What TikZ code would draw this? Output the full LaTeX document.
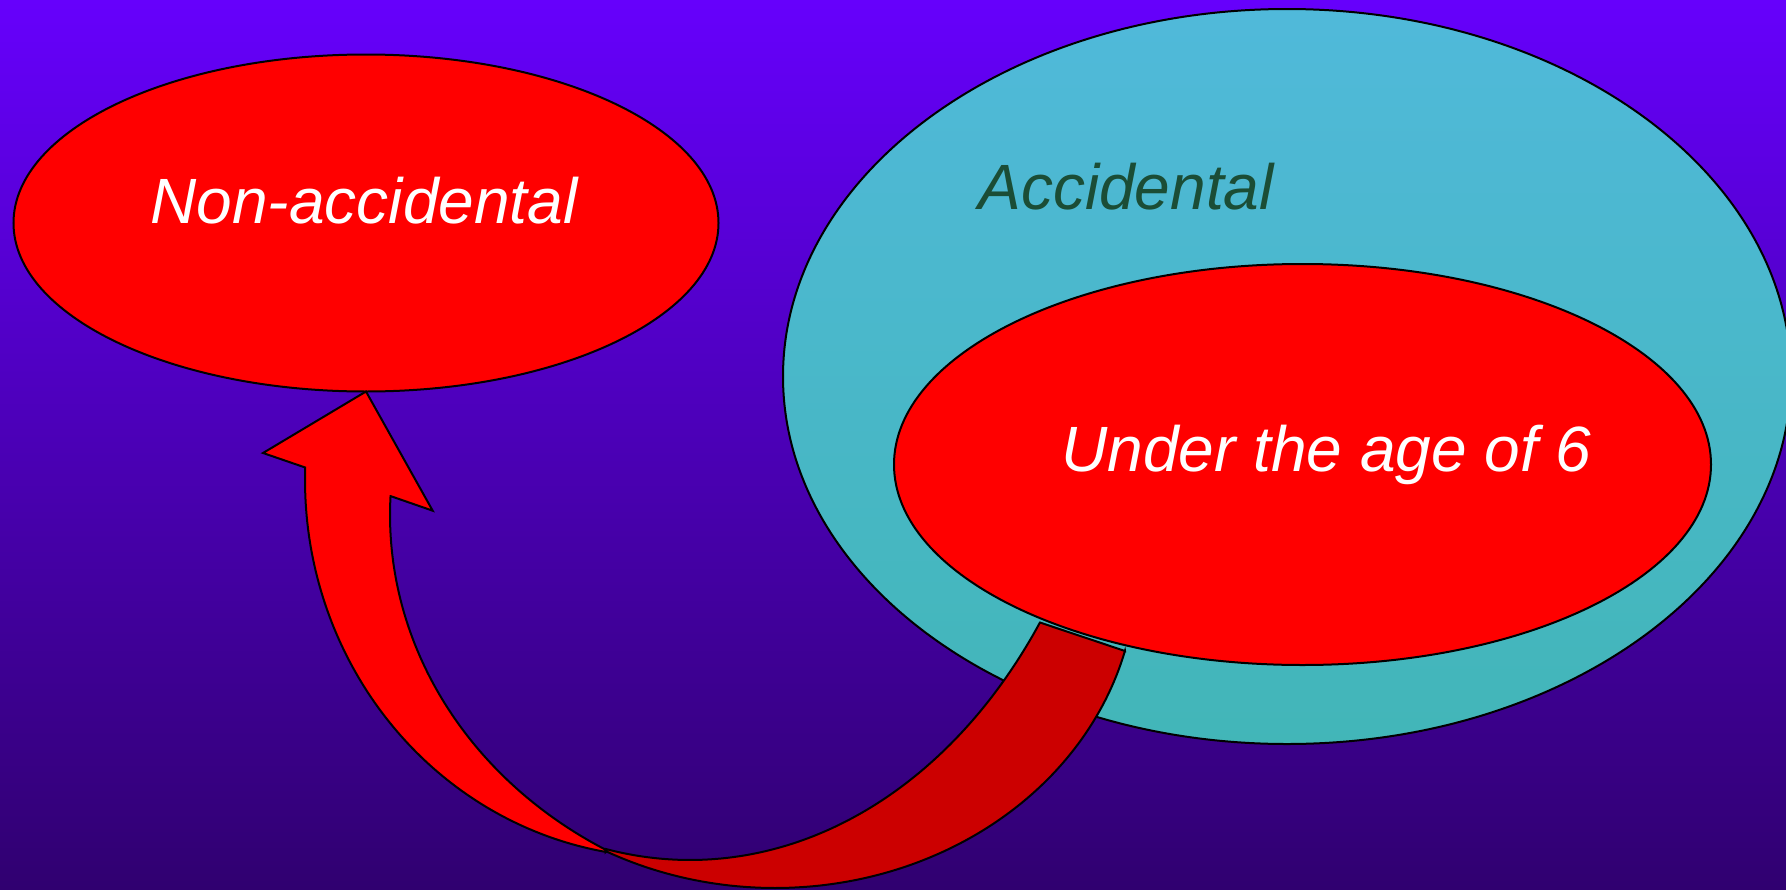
\documentclass[tikz,border=0pt]{standalone}
\usepackage{fontspec}
\setmainfont{Liberation Sans}
\usetikzlibrary{shapes.geometric}
\definecolor{bgtop}{RGB}{102,0,252}
\definecolor{bgbot}{RGB}{48,0,112}
\definecolor{cyantop}{RGB}{80,185,218}
\definecolor{cyanbot}{RGB}{66,182,184}
\definecolor{darkred}{RGB}{204,0,0}
\definecolor{accgreen}{RGB}{27,77,54}
\begin{document}
\begin{tikzpicture}[x=1pt,y=-1pt,
  blob/.style={ellipse, draw=black, line width=2pt, inner sep=0pt, outer sep=0pt},
  txt/.style={font=\fontsize{64}{77}\selectfont\itshape, inner sep=0pt, anchor=base},
  arrowpart/.style={draw=black, line width=2pt, line join=miter}]
\useasboundingbox (0,0) rectangle (1786,889);
\shade[top color=bgtop, bottom color=bgbot] (0,0) rectangle (1786,889);

\node[blob, fill=red, minimum width=705pt, minimum height=337pt] (nonacc) at (366,223) {};
\node[blob, top color=cyantop, bottom color=cyanbot, minimum width=1008pt, minimum height=735pt] (acc) at (1287,376.5) {};
\node[blob, fill=red, minimum width=817pt, minimum height=401pt] (under) at (1302.5,464.5) {};

\node[txt, white] (t1) at (364,223) {Non-accidental};
\node[txt, accgreen] (t2) at (1126,209) {Accidental};
\node[txt, white] (t3) at (1326.5,471) {Under the age of 6};

% curved arrow: front (light) part with head
\coordinate (tip) at (nonacc.south);
\coordinate (rb) at (432.7,510.7);
\coordinate (rj) at (390.6,496.1);
\coordinate (lj) at (305.2,467.5);
\coordinate (lb) at (263,453);
\coordinate (j) at (606,852);
\coordinate (ic) at (1040,622.5);
\coordinate (oc) at (1125,651);
\filldraw[arrowpart, fill=red] (tip) -- (rb) -- (rj)
  -- plot[domain=182.8:120, samples=90] ({822.8+432.8*cos(\x)}, {515+387*sin(\x)})
  -- (j)
  -- plot[domain=99.7:181.9, samples=90] ({667+362*cos(\x)}, {480+377.4*sin(\x)})
  -- (lj) -- (lb) -- cycle;
% back (dark) part of the band
\filldraw[arrowpart, fill=darkred] (ic) -- (oc)
  -- plot[domain=14.5:117.9, samples=90] ({775+361.5*cos(\x)}, {571.6+316.4*sin(\x)})
  -- (j)
  -- plot[domain=101.3:35.6, samples=90] ({690+430.2*cos(\x)}, {292.4+567.6*sin(\x)})
  -- cycle;
\end{tikzpicture}
\end{document}
